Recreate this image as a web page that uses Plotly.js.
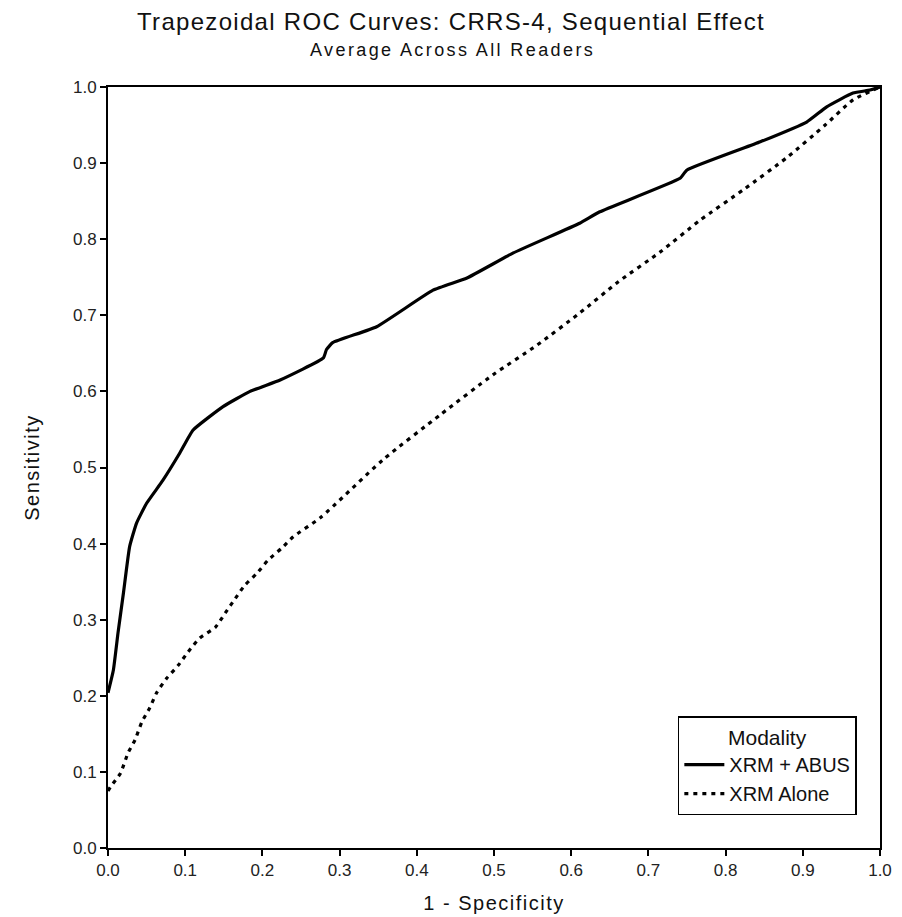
<!DOCTYPE html>
<html>
<head>
<meta charset="utf-8">
<script src="https://cdn.plot.ly/plotly-3.0.1.min.js"></script>
<style>html,body{margin:0;padding:0;background:#fff;}#chart{width:902px;height:917px;}</style>
</head>
<body>
<div id="chart"></div>
<script>
// XRM + ABUS (solid)
const abusX = [0, 0.007, 0.013, 0.02, 0.028, 0.037, 0.05, 0.071, 0.093, 0.11, 0.149, 0.184, 0.223, 0.279, 0.283, 0.291, 0.348, 0.421, 0.465, 0.525, 0.611, 0.637, 0.741, 0.75, 0.845, 0.905, 0.931, 0.965, 0.987, 1.0];
const abusY = [0.204, 0.234, 0.283, 0.335, 0.396, 0.427, 0.453, 0.483, 0.519, 0.549, 0.580, 0.600, 0.615, 0.644, 0.655, 0.664, 0.685, 0.733, 0.749, 0.782, 0.821, 0.836, 0.880, 0.891, 0.928, 0.954, 0.974, 0.992, 0.996, 1.0];
// XRM Alone (dotted)
const aloneX = [0, 0.003, 0.016, 0.026, 0.035, 0.044, 0.054, 0.063, 0.076, 0.091, 0.104, 0.119, 0.139, 0.152, 0.165, 0.177, 0.193, 0.207, 0.225, 0.24, 0.275, 0.356, 0.430, 0.499, 0.556, 0.611, 0.661, 0.715, 0.767, 0.823, 0.879, 0.929, 0.965, 1.0];
const aloneY = [0.075, 0.08, 0.098, 0.125, 0.142, 0.166, 0.184, 0.204, 0.223, 0.24, 0.258, 0.276, 0.29, 0.309, 0.328, 0.345, 0.361, 0.378, 0.394, 0.409, 0.434, 0.51, 0.569, 0.622, 0.661, 0.703, 0.744, 0.783, 0.825, 0.865, 0.907, 0.95, 0.983, 1.0];
const tickVals = [0, 0.1, 0.2, 0.3, 0.4, 0.5, 0.6, 0.7, 0.8, 0.9, 1.0];
const tickText = ['0.0','0.1','0.2','0.3','0.4','0.5','0.6','0.7','0.8','0.9','1.0'];
const titleText = 'Trapezoidal ROC Curves: CRRS-4, Sequential Effect';
const subtitleText = 'Average Across All Readers';

const font = 'Liberation Sans, Arial, sans-serif';
const traces = [
  {x: abusX, y: abusY, mode: 'lines', name: 'XRM + ABUS', line: {color: '#000', width: 3.2, shape: 'spline', smoothing: 0.4}},
  {x: aloneX, y: aloneY, mode: 'lines', name: 'XRM Alone', line: {color: '#000', width: 3.2, dash: '4px,5px', shape: 'spline', smoothing: 0.6}}
];
const axisCommon = {
  range: [0, 1], tickvals: tickVals, ticktext: tickText,
  showgrid: false, zeroline: false, showline: true, linecolor: '#000', linewidth: 2,
  mirror: true, ticks: 'outside', ticklen: 6, tickwidth: 2, tickcolor: '#000',
  tickfont: {family: font, size: 17, color: '#222'}, fixedrange: true
};
const layout = {
  width: 902, height: 917,
  margin: {l: 108, r: 22, t: 87, b: 69},
  paper_bgcolor: '#fff', plot_bgcolor: '#fff',
  title: {text: '<span style="letter-spacing:1.3px">' + titleText + '</span>',
          font: {family: font, size: 24, color: '#111'}, x: 0.5, xanchor: 'center',
          yref: 'container', y: 1 - 22 / 917, yanchor: 'middle'},
  annotations: [{
    text: '<span style="letter-spacing:2.4px">' + subtitleText + '</span>',
    xref: 'paper', yref: 'paper', x: (452 - 108) / 772, y: 1 + 37 / 761, xanchor: 'center', yanchor: 'middle',
    showarrow: false, font: {family: font, size: 18, color: '#111'}
  }],
  xaxis: Object.assign({}, axisCommon, {title: {text: '<span style="letter-spacing:1.5px">1 - Specificity</span>', font: {family: font, size: 20, color: '#111'}, standoff: 17}}),
  yaxis: Object.assign({}, axisCommon, {title: {text: '<span style="letter-spacing:1.5px">Sensitivity</span>', font: {family: font, size: 20, color: '#111'}, standoff: 28}}),
  showlegend: true,
  legend: {
    x: 0.97, y: 0.043, xanchor: 'right', yanchor: 'bottom',
    bgcolor: '#fff', bordercolor: '#000', borderwidth: 1.5,
    font: {family: font, size: 20, color: '#111'},
    title: {text: 'Modality', side: 'top center', font: {family: font, size: 21, color: '#111'}},
    itemwidth: 40, tracegroupgap: 0
  }
};
Plotly.newPlot('chart', traces, layout, {displayModeBar: false, staticPlot: true});
</script>
</body>
</html>
